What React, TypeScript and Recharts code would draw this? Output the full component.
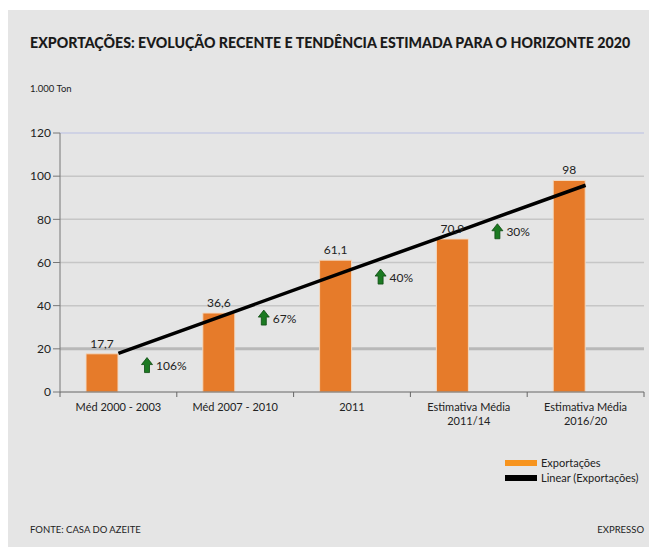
import { Bar, BarChart, CartesianGrid, LabelList, Line, XAxis, YAxis } from "recharts";

const categories = ["Méd 2000 - 2003", "Méd 2007 - 2010", "2011", "Estimativa Média\n2011/14", "Estimativa Média\n2016/20"];
const exportValues = [17.7, 36.6, 61.1, 70.9, 98];
const trendValues = [17.9, 37.4, 56.9, 76.3, 95.8];
const growthLabels = ["106%", "67%", "40%", "30%", null];
const arrowBaseValues = [9, 31, 50, 71, null];
const yTicks = [0, 20, 40, 60, 80, 100, 120];

const data = categories.map((name, i) => ({
  name,
  exports: exportValues[i],
  trend: trendValues[i],
  growth: growthLabels[i],
  arrowBase: arrowBaseValues[i],
}));

const font = "Lato, 'Open Sans', sans-serif";

function CategoryTick(props: any) {
  const { x, y, payload, index } = props;
  const half = payload.offset ?? 58.4;
  const lines = String(payload.value).split("\n");
  return (
    <g>
      <line x1={x - half} y1={y - 8} x2={x - half} y2={y - 3} stroke="#666" />
      {index === categories.length - 1 && <line x1={x + half} y1={y - 8} x2={x + half} y2={y - 3} stroke="#666" />}
      <text x={x} y={y + 11} textAnchor="middle" fontSize={11} fill="#222" fontFamily={font}>
        {lines.map((l, i) => (
          <tspan key={i} x={x} dy={i === 0 ? 0 : 14}>{l}</tspan>
        ))}
      </text>
    </g>
  );
}

function GrowthArrow(props: any) {
  const { x, y, payload } = props;
  if (!payload || !payload.growth) return null;
  const cx = x + 29;
  const b = y;
  const d = `M${cx - 2.5},${b} L${cx - 2.5},${b - 8} L${cx - 5.5},${b - 8} L${cx},${b - 15} L${cx + 5.5},${b - 8} L${cx + 2.5},${b - 8} L${cx + 2.5},${b} Z`;
  return (
    <g>
      <path d={d} fill="#1c7a22" stroke="#0e4a12" strokeWidth={0.8} />
      <text x={cx + 9} y={b - 7} dominantBaseline="central" fontSize={12} fill="#222" fontFamily={font}>{payload.growth}</text>
    </g>
  );
}

export default function App() {
  return (
    <div style={{ position: "relative", width: 649, height: 537, marginTop: 2, background: "#e5e5e5", fontFamily: font, color: "#222" }}>
      <div style={{ position: "absolute", left: 22, top: 26, fontSize: 14.2, fontWeight: 900, lineHeight: 1, whiteSpace: "nowrap", color: "#1a1a1a" }}>
        EXPORTAÇÕES: EVOLUÇÃO RECENTE E TENDÊNCIA ESTIMADA PARA O HORIZONTE 2020
      </div>
      <div style={{ position: "absolute", left: 22, top: 74, fontSize: 9.5, lineHeight: 1 }}>1.000 Ton</div>

      <div style={{ position: "absolute", left: 0, top: 0 }}>
        <BarChart width={649} height={420} data={data} margin={{ top: 123, right: 13, bottom: 8, left: 0 }} barSize={32} barGap={0}>
          <CartesianGrid yAxisId="left" vertical={false} horizontalValues={[40, 60, 80, 100]} stroke="#c6c6c6" strokeWidth={1.5} />
          <CartesianGrid yAxisId="left" vertical={false} horizontalValues={[20]} stroke="#b8b8b8" strokeWidth={3} />
          <CartesianGrid yAxisId="left" vertical={false} horizontalValues={[120]} stroke="#cfd2e4" strokeWidth={2} />
          <XAxis dataKey="name" height={30} interval={0} axisLine={{ stroke: "#666" }} tickLine={false} tick={<CategoryTick />} />
          <YAxis yAxisId="left" width={52} domain={[0, 120]} ticks={yTicks} interval={0} axisLine={{ stroke: "#777" }} tickLine={{ stroke: "#777" }} tickSize={7} tick={{ fontSize: 12, fill: "#222", fontFamily: font }} />
          <YAxis yAxisId="right" orientation="right" width={0} domain={[0, 120]} tick={false} tickLine={false} axisLine={{ stroke: "#cfd2e4", strokeWidth: 2 }} />
          <Bar yAxisId="left" dataKey="exports" fill="#e67b2a" stroke="#f2d9c2" strokeWidth={1} isAnimationActive={false}>
            <LabelList dataKey="exports" position="top" offset={6} fontSize={12} fill="#222" fontFamily={font} formatter={(v: any) => String(v).replace(".", ",")} />
          </Bar>
          <Bar yAxisId="left" dataKey="arrowBase" fill="none" shape={<GrowthArrow />} isAnimationActive={false} />
          <Line yAxisId="left" dataKey="trend" type="linear" stroke="#000" strokeWidth={3.5} dot={false} activeDot={false} isAnimationActive={false} />
        </BarChart>
      </div>

      <div style={{ position: "absolute", left: 497, top: 445, fontSize: 11, lineHeight: "15px" }}>
        <div style={{ display: "flex", alignItems: "center" }}>
          <span style={{ display: "inline-block", width: 32, height: 6, background: "#f7941e", marginRight: 4 }} />
          Exportações
        </div>
        <div style={{ display: "flex", alignItems: "center" }}>
          <span style={{ display: "inline-block", width: 32, height: 6, background: "#000", marginRight: 4 }} />
          Linear (Exportações)
        </div>
      </div>

      <div style={{ position: "absolute", left: 22, top: 515, fontSize: 9.5, lineHeight: 1 }}>FONTE: CASA DO AZEITE</div>
      <div style={{ position: "absolute", right: 13, top: 515, fontSize: 9.5, lineHeight: 1 }}>EXPRESSO</div>
    </div>
  );
}
